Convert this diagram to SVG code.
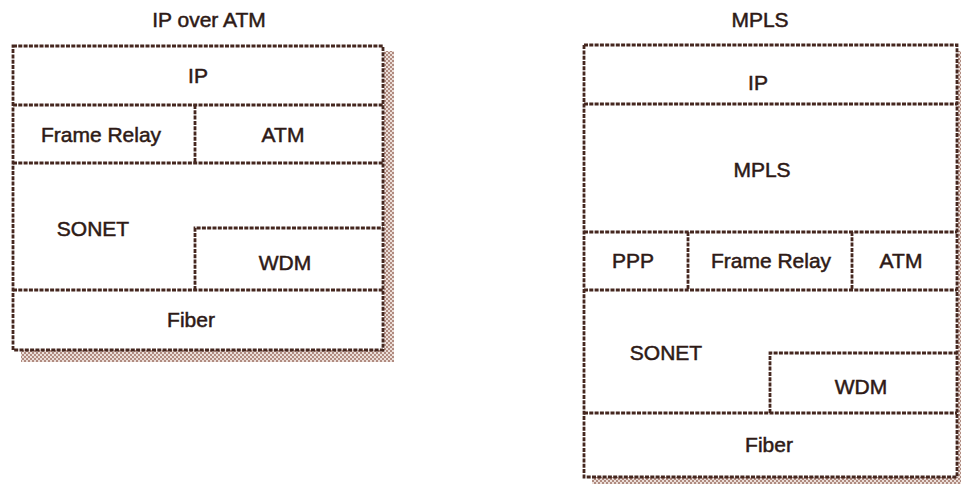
<svg xmlns="http://www.w3.org/2000/svg" width="961" height="484" viewBox="0 0 961 484">
<style>
.ln{fill:none;stroke:#45271f;stroke-width:2.8;stroke-dasharray:4 1.3}
.t{font-family:"Liberation Sans",Arial,sans-serif;font-size:21px;fill:#2e1a16;stroke:#2e1a16;stroke-width:0.5;text-anchor:middle}
.sh{fill:url(#chk)}
</style>
<defs>
<pattern id="chk" width="4" height="4" patternUnits="userSpaceOnUse">
<rect width="4" height="4" fill="#ecdfda"/>
<rect width="2" height="2" fill="#b08b80"/>
<rect x="2" y="2" width="2" height="2" fill="#b08b80"/>
</pattern>
</defs>
<rect width="961" height="484" fill="#ffffff"/>
<text class="t" x="209" y="27">IP over ATM</text>
<text class="t" x="760" y="27">MPLS</text>
<g id="left-stack">
<rect class="sh" x="384" y="51" width="10" height="311"/>
<rect class="sh" x="21" y="350" width="373" height="12"/>
<rect class="ln" x="13" y="46" width="370" height="304" fill="#fff"/>
</g>
<g id="right-stack">
<rect class="sh" x="958" y="51" width="4" height="433"/>
<rect class="sh" x="592" y="477" width="370" height="8"/>
<rect class="ln" x="584" y="45" width="373" height="432" fill="#fff"/>
</g>
<g id="connectors">
<line class="ln" x1="13" y1="105" x2="383" y2="105"/>
<line class="ln" x1="13" y1="163" x2="383" y2="163"/>
<line class="ln" x1="195" y1="105" x2="195" y2="163"/>
<polyline class="ln" points="195,290 195,228 383,228"/>
<line class="ln" x1="13" y1="290" x2="383" y2="290"/>
<line class="ln" x1="584" y1="104" x2="957" y2="104"/>
<line class="ln" x1="584" y1="232" x2="957" y2="232"/>
<line class="ln" x1="584" y1="290" x2="957" y2="290"/>
<line class="ln" x1="688" y1="232" x2="688" y2="290"/>
<line class="ln" x1="852" y1="232" x2="852" y2="290"/>
<polyline class="ln" points="770,413 770,353 957,353"/>
<line class="ln" x1="584" y1="413" x2="957" y2="413"/>
</g>
<g id="l-ip"><text class="t" x="198" y="83">IP</text></g>
<g id="l-fr"><text class="t" x="101" y="142">Frame Relay</text></g>
<g id="l-atm"><text class="t" x="283" y="142">ATM</text></g>
<g id="l-sonet"><text class="t" x="93" y="236">SONET</text></g>
<g id="l-wdm"><text class="t" x="285" y="270">WDM</text></g>
<g id="l-fiber"><text class="t" x="191" y="327">Fiber</text></g>
<g id="r-ip"><text class="t" x="758" y="90">IP</text></g>
<g id="r-mpls"><text class="t" x="762" y="177">MPLS</text></g>
<g id="r-ppp"><text class="t" x="633" y="268">PPP</text></g>
<g id="r-fr"><text class="t" x="771" y="268">Frame Relay</text></g>
<g id="r-atm"><text class="t" x="901" y="268">ATM</text></g>
<g id="r-sonet"><text class="t" x="666" y="360">SONET</text></g>
<g id="r-wdm"><text class="t" x="861" y="394">WDM</text></g>
<g id="r-fiber"><text class="t" x="769" y="452">Fiber</text></g>
</svg>
